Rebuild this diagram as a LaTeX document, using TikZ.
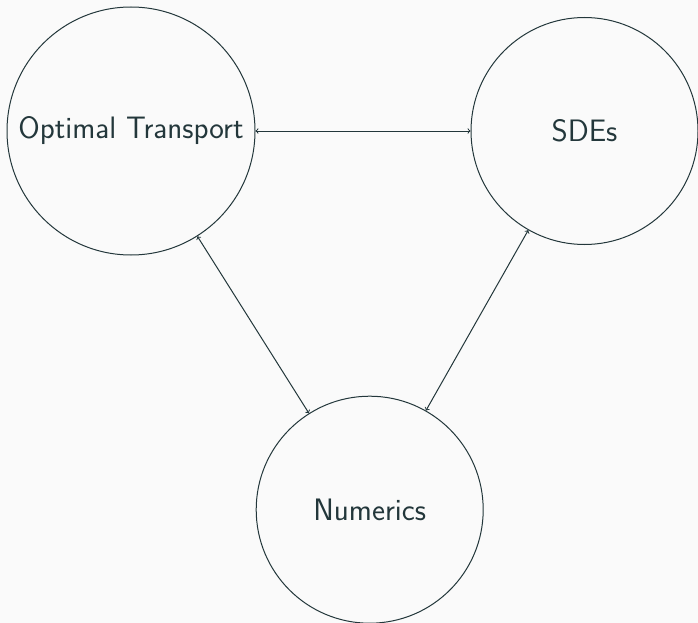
\documentclass[tikz,border=0pt]{standalone}
\usepackage{xcolor}
\definecolor{mfg}{HTML}{23373B}
\definecolor{mbg}{HTML}{FAFAFA}
\begin{document}
\begin{tikzpicture}[x=1pt,y=-1pt,
  bubble/.style={circle,draw=mfg,line width=1pt,inner sep=0pt,text=mfg,
    font=\sffamily\fontsize{31}{37}\selectfont},
  link/.style={draw=mfg,line width=1pt,<->}]
\fill[mbg] (0,0) rectangle (698,623);
\useasboundingbox (0,0) rectangle (698,623);
\node[bubble,minimum size=248pt] (ot) at (131,131) {Optimal Transport};
\node[bubble,minimum size=227pt] (sde) at (584.5,131) {SDEs};
\node[bubble,minimum size=227pt] (num) at (369.7,509.7) {Numerics};
\draw[link] (ot) -- (sde);
\draw[link] (ot) -- (num);
\draw[link] (sde) -- (num);
\end{tikzpicture}
\end{document}
